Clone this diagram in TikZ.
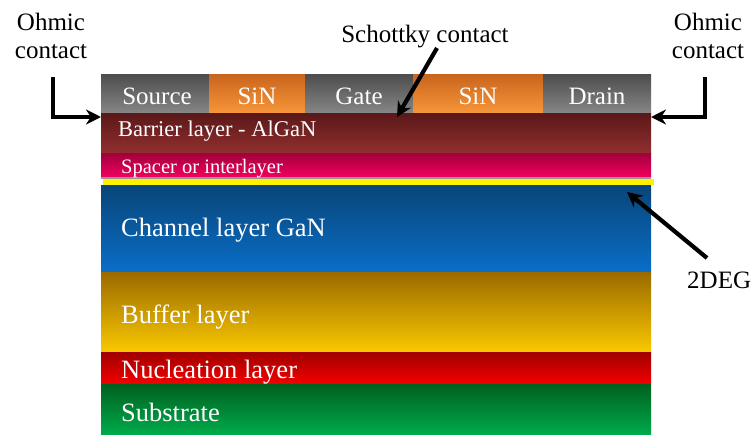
\documentclass[tikz,border=0pt]{standalone}
\usepackage{fontspec}
\setmainfont{Liberation Serif}
\usetikzlibrary{arrows.meta}
\definecolor{gtop}{HTML}{4D4D4D}\definecolor{gbot}{HTML}{868686}
\definecolor{otop}{HTML}{C8641E}\definecolor{obot}{HTML}{F7963A}
\definecolor{btop}{HTML}{5A1818}\definecolor{bbot}{HTML}{922F2F}
\definecolor{stop}{HTML}{A0003C}\definecolor{sbot}{HTML}{F2005E}
\definecolor{ctop}{HTML}{084578}\definecolor{cbot}{HTML}{0A6EC8}
\definecolor{uftop}{HTML}{9A6A00}\definecolor{ufbot}{HTML}{FAC800}
\definecolor{ntop}{HTML}{A00000}\definecolor{nbot}{HTML}{F40000}
\definecolor{subtop}{HTML}{006020}\definecolor{subbot}{HTML}{00AA4A}
\tikzset{
  lbl/.style={text=white,font=\fontsize{26.5}{29}\selectfont,inner sep=0pt,anchor=base west},
  clbl/.style={text=white,font=\fontsize{25}{28}\selectfont,inner sep=0pt,anchor=base},
  note/.style={text=black,font=\fontsize{25}{28}\selectfont,inner sep=0pt,align=center},
  bigarrow/.style={line width=4.2pt,-{Stealth[length=15pt,width=15pt]}},
}
\begin{document}
\begin{tikzpicture}[x=1pt,y=-1pt]
\useasboundingbox[fill=white] (0,0) rectangle (754,434);
% top contact row
\shade[top color=gtop,bottom color=gbot] (101,74) rectangle (209,113);
\shade[top color=otop,bottom color=obot] (209,74) rectangle (305,113);
\shade[top color=gtop,bottom color=gbot] (305,74) rectangle (413,113);
\shade[top color=otop,bottom color=obot] (413,74) rectangle (543,113);
\shade[top color=gtop,bottom color=gbot] (543,74) rectangle (651,113);
% layers
\shade[top color=btop,bottom color=bbot] (101,113) rectangle (651,153);
\shade[top color=stop,bottom color=sbot] (101,153) rectangle (651,177);
\fill[gray!80] (101,177) rectangle (651,179);
\shade[top color=ctop,bottom color=cbot] (101,185) rectangle (651,272);
\fill[yellow] (103,179) rectangle (654,185);
\shade[top color=uftop,bottom color=ufbot] (101,272) rectangle (651,352);
\shade[top color=ntop,bottom color=nbot] (101,352) rectangle (651,384);
\shade[top color=subtop,bottom color=subbot] (101,384) rectangle (651,434);
% labels
\node[clbl] (source) at (157,104) {Source};
\node[clbl] (sin1) at (257,104) {SiN};
\node[clbl] (gate) at (359,104) {Gate};
\node[clbl] (sin2) at (478,104) {SiN};
\node[clbl] (drain) at (597,104) {Drain};
\node[lbl,font=\fontsize{22.5}{25}\selectfont] (barrier) at (118,136) {Barrier layer - AlGaN};
\node[lbl,font=\fontsize{20.5}{23}\selectfont] (spacer) at (121,173) {Spacer or interlayer};
\node[lbl] (channel) at (121,236) {Channel layer GaN};
\node[lbl] (buffer) at (121,323) {Buffer layer};
\node[lbl] (nucl) at (121,378) {Nucleation layer};
\node[lbl] (subs) at (121,421) {Substrate};
% annotations
\node[note] (ohmL) at (51,36) {Ohmic\\contact};
\node[note] (ohmR) at (708,36) {Ohmic\\contact};
\node[note,anchor=base] (schottky) at (425,42) {Schottky contact};
\node[note,anchor=base west] (deg) at (687,288) {2DEG};
% arrows
\coordinate (lA) at (53,77); \coordinate (lB) at (101,117);
\coordinate (rA) at (705,77); \coordinate (rB) at (651,117);
\coordinate (sA) at (437,48); \coordinate (sB) at (397,117);
\coordinate (dA) at (707,258); \coordinate (dB) at (627,192);
\draw[bigarrow] (lA) |- (lB);
\draw[bigarrow] (rA) |- (rB);
\draw[bigarrow] (sA) -- (sB);
\draw[bigarrow] (dA) -- (dB);
\end{tikzpicture}
\end{document}
